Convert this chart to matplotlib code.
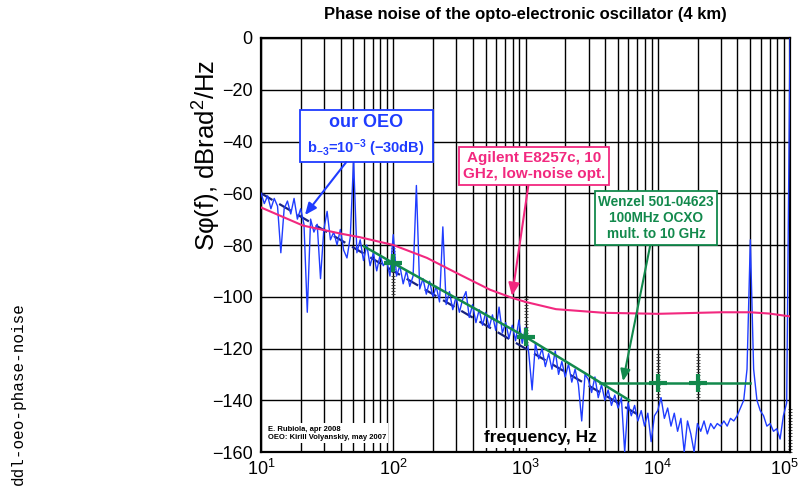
import numpy as np
import matplotlib
matplotlib.use("Agg")
from matplotlib import pyplot as plt
from matplotlib.patches import Rectangle
from matplotlib.transforms import ScaledTranslation

plt.rcParams['font.family'] = ['Liberation Sans', 'DejaVu Sans']
plt.rcParams['mathtext.fontset'] = 'custom'
plt.rcParams['mathtext.rm'] = 'Liberation Sans'
plt.rcParams['mathtext.it'] = 'Liberation Sans:italic'
plt.rcParams['mathtext.bf'] = 'Liberation Sans:bold'

# measured OEO phase noise, 40 points per decade from 10 Hz to 100 kHz
oeo_db = [
    -60, -64, -61, -66, -62, -65, -83, -66, -63, -68,
    -62, -70, -66, -72, -106, -70, -75, -72, -93, -74,
    -67, -78, -75, -80, -74, -82, -85, -77, -47, -83,
    -78, -86, -80, -88, -83, -90, -84, -88, -86, -92,
    -76, -92, -88, -95, -90, -96, -92, -57, -97, -93,
    -99, -94, -100, -96, -102, -73, -103, -98, -105, -100,
    -106, -101, -98, -108, -103, -110, -105, -111, -106, -112,
    -107, -113, -104, -114, -110, -116, -111, -117, -109, -118,
    -112, -122, -136, -118, -124, -120, -127, -122, -128, -121,
    -130, -125, -131, -126, -133, -128, -134, -148, -130, -132,
    -137, -131, -139, -134, -140, -136, -142, -138, -143, -139,
    -160, -141, -146, -142, -148, -144, -150, -145, -156, -146,
    -144, -139, -147, -143, -150, -145, -152, -147, -160, -148,
    -153, -160, -149, -152, -148, -153, -149, -151, -149, -150,
    -148, -150, -147, -148, -146, -143, -140, -128, -78, -128,
    -140, -144, -146, -150, -149, -152, -151, -155, -146, -141,
    0,
]
oeo_f = np.logspace(1, 5, len(oeo_db))

# b_-3 = 1e-3 flicker-of-frequency line
b3_f = [10, 7000]
b3_db = [-60, -145.4]

agilent_f = [10, 20.8, 40, 56, 100, 180, 320, 540, 800, 1000, 1700, 3900,
             1e4, 3e4, 5e4, 7e4, 1e5]
agilent_db = [-65.5, -72.5, -75.6, -77, -80, -85, -91.5, -97.3, -100.5,
              -102, -104.8, -106.2, -106.6, -106, -106, -106.5, -107.6]

wenzel_slope_f = [60, 100, 1000, 6100]
wenzel_slope_db = [-80.5, -87, -115.5, -140]
wenzel_floor_f = [3660, 5e4]
wenzel_floor_db = [-133.3, -133.3]
wenzel_spec_f = [100, 1000, 1e4, 2e4]
wenzel_spec_db = [-87, -115.5, -133.3, -133.3]

ladder_f = [100, 1000, 1e4, 2e4, 1e5]
ladder_top = [-81, -99, -121, -121, -143]
ladder_bot = [-99, -120, -140, -140, -160]

blue = '#1f3cff'
pink = '#f2287f'
green = '#12894c'
navy = '#1a237e'

fig = plt.figure(figsize=(8.01, 4.92), dpi=100)
ax = fig.add_axes([261 / 801, 40 / 492, 529 / 801, 414 / 492])

ax.set_xscale('log')
ax.set_xlim(10, 1e5)
ax.set_ylim(-160, 0)
ax.set_yticks(np.arange(-160, 1, 20))
ax.set_xticks([10, 100, 1e3, 1e4, 1e5])
ax.set_xticklabels(['$10^{1}$', '$10^{2}$', '$10^{3}$', '$10^{4}$', '$10^{5}$'])
ax.grid(True, which='both', color='black', lw=1.0)
ax.set_axisbelow(True)
ax.tick_params(which='both', length=0, labelsize=13)
ax.tick_params(axis='y', pad=6)
ax.tick_params(axis='x', pad=5)
for s in ax.spines.values():
    s.set_linewidth(1.6)
last = ax.get_xticklabels()[-1]
last.set_transform(last.get_transform() + ScaledTranslation(-6 / 100, 0, fig.dpi_scale_trans))

# ruler ladders
for f, top, bot in zip(ladder_f, ladder_top, ladder_bot):
    ys = np.arange(bot, top + 0.1, 1.2)
    ax.plot([f] * len(ys), ys, ls='none', marker='_', ms=3.5, mew=0.6,
            color='#333333', zorder=2.5, clip_on=False)

ax.plot(b3_f, b3_db, color=navy, lw=1.6, dashes=(6, 3.5), zorder=3)
ax.plot(oeo_f, oeo_db, color=blue, lw=1.0, zorder=4)
ax.plot(agilent_f, agilent_db, color=pink, lw=1.5, zorder=5)
ax.plot(wenzel_slope_f, wenzel_slope_db, color=green, lw=1.8, zorder=5)
ax.plot(wenzel_floor_f, wenzel_floor_db, color=green, lw=1.8, zorder=5)
ax.plot(wenzel_spec_f, wenzel_spec_db, ls='none', marker='+', ms=13,
        mew=3, color=green, zorder=6)

# our OEO box
ax.add_patch(Rectangle((0.0737, 0.700), 0.2515, 0.126, transform=ax.transAxes,
                       facecolor='white', edgecolor=blue, lw=1.3, zorder=7))
ax.text(0.1985, 0.795, 'our OEO', transform=ax.transAxes, ha='center',
        va='center', color=blue, fontsize=13, fontweight='bold', zorder=8)
ax.text(0.1985, 0.733, r'b$_{\mathbf{-3}}$=10$^{\mathbf{-3}}$ (−30dB)',
        transform=ax.transAxes, ha='center', va='center', color=blue,
        fontsize=10.5, fontweight='bold', zorder=8)
ax.annotate('', xy=(21.5, -68.4), xytext=(0.161, 0.700),
            textcoords='axes fraction',
            arrowprops=dict(arrowstyle='-|>,head_length=0.7,head_width=0.3',
                            color=blue, lw=1.5, shrinkA=0, shrinkB=0),
            zorder=8)

ax.annotate('Agilent E8257c, 10\nGHz, low-noise opt.', xy=(791, -99.7),
            xytext=(1159, -49.5), ha='center', va='center', color=pink,
            fontsize=11, fontweight='bold', linespacing=1.2,
            bbox=dict(boxstyle='square,pad=0.25', fc='white', ec=pink, lw=1.3),
            arrowprops=dict(arrowstyle='-|>,head_length=0.7,head_width=0.3',
                            color=pink, lw=1.5, relpos=(0.465, 0),
                            shrinkA=0, shrinkB=0),
            zorder=8)

ax.annotate('Wenzel 501-04623\n100MHz OCXO\nmult. to 10 GHz', xy=(5460, -132.6),
            xytext=(9700, -69.6), ha='center', va='center', color=green,
            fontsize=9.8, fontweight='bold', linespacing=1.2,
            bbox=dict(boxstyle='square,pad=0.25', fc='white', ec=green, lw=1.3),
            arrowprops=dict(arrowstyle='-|>,head_length=0.7,head_width=0.3',
                            color=green, lw=1.5, relpos=(0.457, 0),
                            shrinkA=0, shrinkB=0),
            zorder=8)

ax.text(0.528, 0.034, 'frequency, Hz', transform=ax.transAxes, ha='center',
        va='center', fontsize=12.5, fontweight='bold', zorder=8,
        bbox=dict(boxstyle='square,pad=0.15', fc='white', ec='none'))
ax.text(0.013, 0.045, 'E. Rubiola, apr 2008\nOEO: Kirill Volyanskiy, may 2007',
        transform=ax.transAxes, ha='left', va='center', fontsize=5.5,
        fontweight='bold', linespacing=1.3, zorder=8,
        bbox=dict(boxstyle='square,pad=0.3', fc='white', ec='none'))

fig.text(525 / 801, 1 - 14 / 492, 'Phase noise of the opto-electronic oscillator (4 km)',
         ha='center', va='center', fontsize=12, fontweight='bold')
fig.text(207 / 801, 1 - 155 / 492, r'Sφ(f), dBrad$^{2}$/Hz', rotation=90,
         ha='center', va='center', fontsize=18.5)
fig.text(18 / 801, 1 - 394 / 492, 'ddl-oeo-phase-noise', rotation=90,
         ha='center', va='center', fontsize=11.5, family='Liberation Mono')

fig.savefig('out.png', dpi=100)
